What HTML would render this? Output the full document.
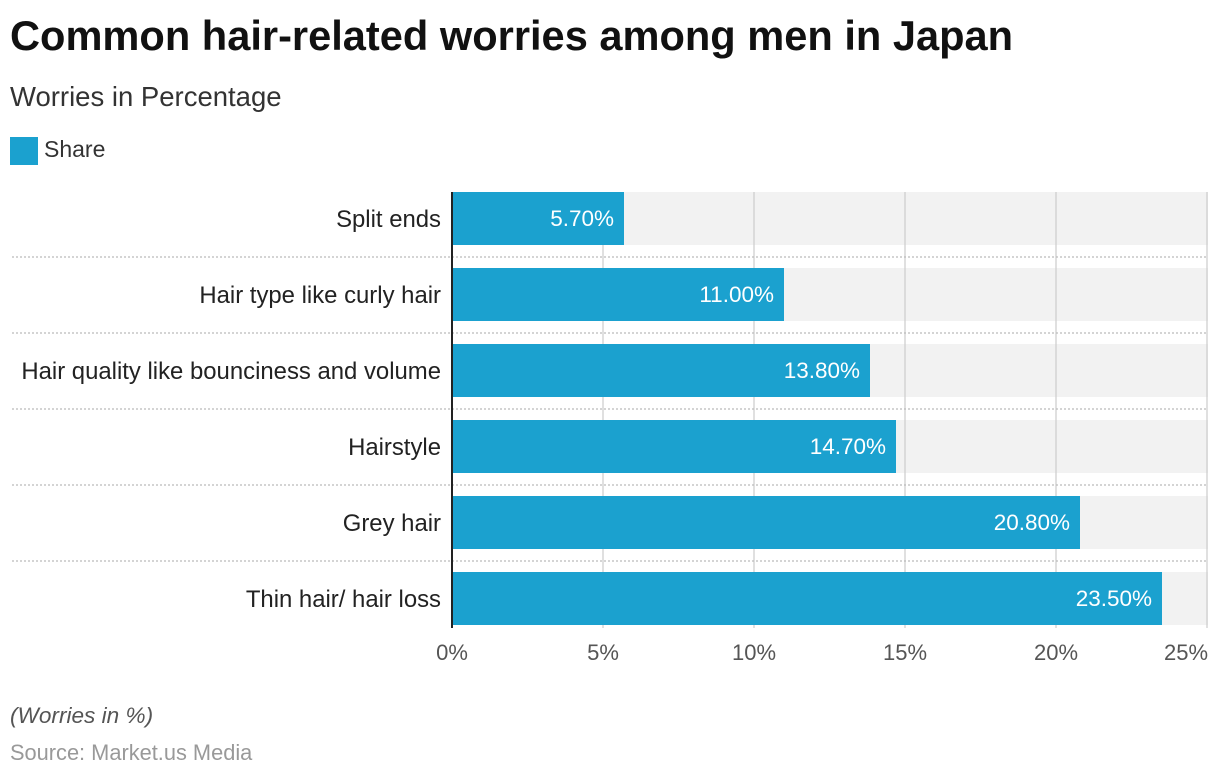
<!DOCTYPE html>
<html><head><meta charset="utf-8"><style>
body{margin:0;width:1220px;height:778px;background:#fff;font-family:"Liberation Sans",Arial,sans-serif;position:relative;overflow:hidden}
.a{position:absolute;white-space:nowrap}
</style></head><body>
<div class="a" style="left:10px;top:12px;font-size:41.6px;font-weight:bold;color:#111">Common hair-related worries among men in Japan</div>
<div class="a" style="left:10px;top:81px;font-size:27.5px;color:#333">Worries in Percentage</div>
<div class="a" style="left:10px;top:137px;width:28px;height:28px;background:#1ba1cf"></div>
<div class="a" style="left:44px;top:136px;font-size:23px;color:#333">Share</div>
<svg class="a" style="left:0;top:0" width="1220" height="778">
<g fill="#f2f2f2">
<rect x="452" y="192" width="756" height="53"/><rect x="452" y="268" width="756" height="53"/><rect x="452" y="344" width="756" height="53"/><rect x="452" y="420" width="756" height="53"/><rect x="452" y="496" width="756" height="53"/><rect x="452" y="572" width="756" height="53"/>
</g>
<g stroke="#ccc" stroke-width="1.2">
<line x1="603" y1="192" x2="603" y2="628"/><line x1="754" y1="192" x2="754" y2="628"/><line x1="905" y1="192" x2="905" y2="628"/><line x1="1056" y1="192" x2="1056" y2="628"/><line x1="1207" y1="192" x2="1207" y2="628"/>
</g>
<g fill="#1ba1cf">
<rect x="452" y="192" width="172" height="53"/><rect x="452" y="268" width="332" height="53"/><rect x="452" y="344" width="418" height="53"/><rect x="452" y="420" width="444" height="53"/><rect x="452" y="496" width="628" height="53"/><rect x="452" y="572" width="710" height="53"/>
</g>
<g stroke="#bbb" stroke-width="1.2" stroke-dasharray="2,2">
<line x1="12" y1="257" x2="1207" y2="257"/><line x1="12" y1="333" x2="1207" y2="333"/><line x1="12" y1="409" x2="1207" y2="409"/><line x1="12" y1="485" x2="1207" y2="485"/><line x1="12" y1="561" x2="1207" y2="561"/>
</g>
<line x1="452" y1="192" x2="452" y2="628" stroke="#222" stroke-width="2"/>
<g font-size="23.9" fill="#222" text-anchor="end" font-family="Liberation Sans,Arial,sans-serif">
<text x="441" y="227">Split ends</text><text x="441" y="303">Hair type like curly hair</text><text x="441" y="379">Hair quality like bounciness and volume</text><text x="441" y="455">Hairstyle</text><text x="441" y="531">Grey hair</text><text x="441" y="607">Thin hair/ hair loss</text>
</g>
<g font-size="22.5" fill="#fff" text-anchor="end" font-family="Liberation Sans,Arial,sans-serif">
<text x="614" y="226">5.70%</text><text x="774" y="302">11.00%</text><text x="860" y="378">13.80%</text><text x="886" y="454">14.70%</text><text x="1070" y="530">20.80%</text><text x="1152" y="606">23.50%</text>
</g>
<g font-size="22" fill="#555" text-anchor="middle" font-family="Liberation Sans,Arial,sans-serif">
<text x="452" y="660">0%</text><text x="603" y="660">5%</text><text x="754" y="660">10%</text><text x="905" y="660">15%</text><text x="1056" y="660">20%</text><text x="1186" y="660">25%</text>
</g>
</svg>
<div class="a" style="left:10px;top:703px;font-size:22.6px;font-style:italic;color:#555">(Worries in %)</div>
<div class="a" style="left:10px;top:740px;font-size:21.8px;color:#999">Source: Market.us Media</div>
</body></html>
